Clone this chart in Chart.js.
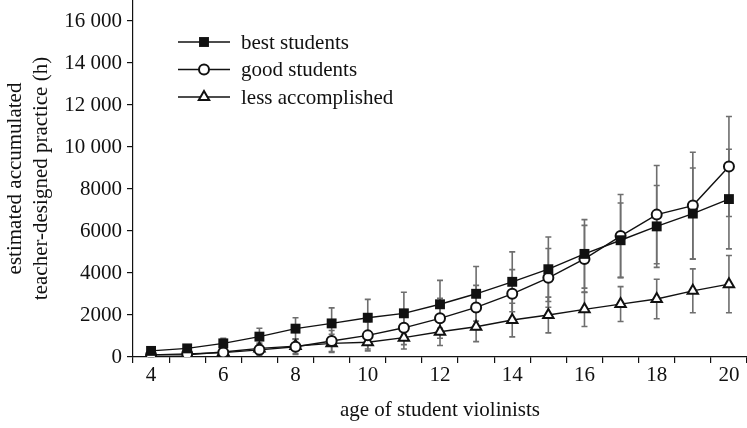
<!DOCTYPE html>
<html>
<head>
<meta charset="utf-8">
<script src="https://cdn.jsdelivr.net/npm/chart.js@4/dist/chart.umd.min.js"></script>
<style>
  body { margin: 0; background: #fff; }
  #wrap { width: 747px; height: 428px; }
</style>
</head>
<body>
<div id="wrap"><canvas id="chart"></canvas></div>
<script>
// ages on the x axis
const ages = [4, 5, 6, 7, 8, 9, 10, 11, 12, 13, 14, 15, 16, 17, 18, 19, 20];

// mean accumulated practice (h) per group
const bestStudents = [290, 410, 650, 970, 1350, 1600, 1870, 2080, 2510, 3010, 3580, 4180, 4910, 5560, 6220, 6830, 7520];
const goodStudents = [100, 150, 210, 340, 490, 760, 1030, 1390, 1840, 2360, 3010, 3770, 4670, 5760, 6780, 7210, 9070];
const lessAccomplished = [100, 110, 240, 410, 520, 650, 700, 920, 1200, 1440, 1760, 2000, 2270, 2520, 2760, 3150, 3470];

// standard deviations (error bars)
const bestSD = [100, 150, 240, 400, 520, 740, 875, 1000, 1140, 1300, 1425, 1535, 1630, 1770, 1950, 2170, 2370];
const goodSD = [80, 100, 150, 250, 370, 500, 650, 800, 950, 1050, 1150, 1400, 1600, 1980, 2340, 2540, 2380];
const lessSD = [60, 80, 150, 250, 350, 430, 410, 540, 650, 710, 800, 850, 820, 830, 940, 1045, 1360];

const yTicks = [0, 2000, 4000, 6000, 8000, 10000, 12000, 14000, 16000];

const serif = 'Liberation Serif';
const ink = '#111';

function fmt(v) {
  if (v >= 10000) {
    const s = String(v);
    return s.slice(0, s.length - 3) + ' ' + s.slice(-3);
  }
  return String(v);
}

function marker(ctx, style, x, y, r) {
  ctx.save();
  ctx.beginPath();
  if (style === 'rect') {
    const s = Math.SQRT1_2 * r;
    ctx.rect(x - s, y - s, 2 * s, 2 * s);
    ctx.fillStyle = ink;
    ctx.fill();
  } else if (style === 'circle') {
    ctx.arc(x, y, r, 0, Math.PI * 2);
    ctx.fillStyle = '#fff';
    ctx.fill();
    ctx.lineWidth = 2;
    ctx.strokeStyle = ink;
    ctx.stroke();
  } else {
    for (let k = 0; k < 3; k++) {
      const a = k * 2 * Math.PI / 3;
      const px = x + Math.sin(a) * r, py = y - Math.cos(a) * r;
      if (k === 0) ctx.moveTo(px, py); else ctx.lineTo(px, py);
    }
    ctx.closePath();
    ctx.fillStyle = '#fff';
    ctx.fill();
    ctx.lineWidth = 2;
    ctx.strokeStyle = ink;
    ctx.stroke();
  }
  ctx.restore();
}

const errorBars = {
  id: 'errorBars',
  beforeDatasetsDraw(chart) {
    const { ctx, scales: { x, y } } = chart;
    ctx.save();
    ctx.strokeStyle = '#6e6e6e';
    ctx.lineWidth = 1.6;
    chart.data.datasets.forEach(ds => {
      ds.data.forEach((v, i) => {
        const sd = ds.sd[i];
        const px = x.getPixelForValue(i);
        const top = y.getPixelForValue(v + sd);
        const bot = y.getPixelForValue(Math.max(0, v - sd));
        ctx.beginPath();
        ctx.moveTo(px, top); ctx.lineTo(px, bot);
        ctx.moveTo(px - 3, top); ctx.lineTo(px + 3, top);
        ctx.moveTo(px - 3, bot); ctx.lineTo(px + 3, bot);
        ctx.stroke();
      });
    });
    ctx.restore();
  }
};

const legendBox = {
  id: 'legendBox',
  afterDraw(chart) {
    const { ctx, chartArea } = chart;
    const x0 = chartArea.left + 45;
    ctx.save();
    ctx.font = '21px "' + serif + '"';
    ctx.textBaseline = 'middle';
    ctx.fillStyle = ink;
    chart.data.datasets.forEach((ds, i) => {
      const yy = chartArea.top + 42 + i * 27.5;
      ctx.beginPath();
      ctx.strokeStyle = ink;
      ctx.lineWidth = 1.4;
      ctx.moveTo(x0, yy); ctx.lineTo(x0 + 52, yy);
      ctx.stroke();
      marker(ctx, ds.pointStyle, x0 + 26, yy, ds.pointRadius);
      ctx.fillText(ds.label, x0 + 63, yy + 1);
    });
    ctx.restore();
  }
};

function series(label, data, sd, style, r, fill) {
  return {
    label: label,
    data: data,
    sd: sd,
    borderColor: ink,
    backgroundColor: ink,
    borderWidth: 1.4,
    pointStyle: style,
    pointRadius: r,
    pointHoverRadius: r,
    pointBackgroundColor: fill,
    pointBorderColor: ink,
    pointBorderWidth: style === 'rect' ? 0 : 2,
    tension: 0
  };
}

new Chart(document.getElementById('chart'), {
  type: 'line',
  data: {
    labels: ages,
    datasets: [
      series('best students', bestStudents, bestSD, 'rect', 7, ink),
      series('good students', goodStudents, goodSD, 'circle', 5, '#fff'),
      series('less accomplished', lessAccomplished, lessSD, 'triangle', 6, '#fff')
    ]
  },
  plugins: [errorBars, legendBox],
  options: {
    responsive: true,
    maintainAspectRatio: false,
    animation: false,
    layout: { padding: 0, autoPadding: false },
    plugins: { legend: { display: false }, tooltip: { enabled: false } },
    scales: {
      x: {
        type: 'category',
        offset: true,
        border: { color: ink, width: 1.2 },
        grid: { offset: true, drawOnChartArea: false, color: ink, tickLength: 6, lineWidth: 1.2 },
        ticks: {
          autoSkip: false,
          maxRotation: 0,
          padding: 0,
          color: ink,
          font: { family: serif, size: 21 },
          callback: function (v) {
            const a = this.getLabelForValue(v);
            return a % 2 === 0 ? String(a) : '';
          }
        },
        title: {
          display: true,
          text: 'age of student violinists',
          color: ink,
          font: { family: serif, size: 21, lineHeight: 1.25 },
          padding: { top: 0, bottom: 4 }
        },
        afterFit(scale) {
          scale.height = 71;
          scale.paddingLeft = 0;
          scale.paddingRight = 0;
        }
      },
      y: {
        min: 0,
        max: 17000,
        border: { color: ink, width: 1.2 },
        grid: { drawOnChartArea: false, color: ink, tickLength: 6, lineWidth: 1.2 },
        afterBuildTicks(scale) { scale.ticks = yTicks.map(v => ({ value: v })); },
        ticks: {
          padding: 5,
          color: ink,
          font: { family: serif, size: 21 },
          callback: v => fmt(v)
        },
        title: {
          display: true,
          text: ['estimated accumulated', 'teacher-designed practice (h)'],
          color: ink,
          font: { family: serif, size: 21, lineHeight: 1.25 },
          padding: { top: 2, bottom: 0 }
        },
        afterFit(scale) {
          scale.width = 133;
          scale.paddingTop = 0;
          scale.paddingBottom = 0;
        }
      }
    }
  }
});
</script>
</body>
</html>
